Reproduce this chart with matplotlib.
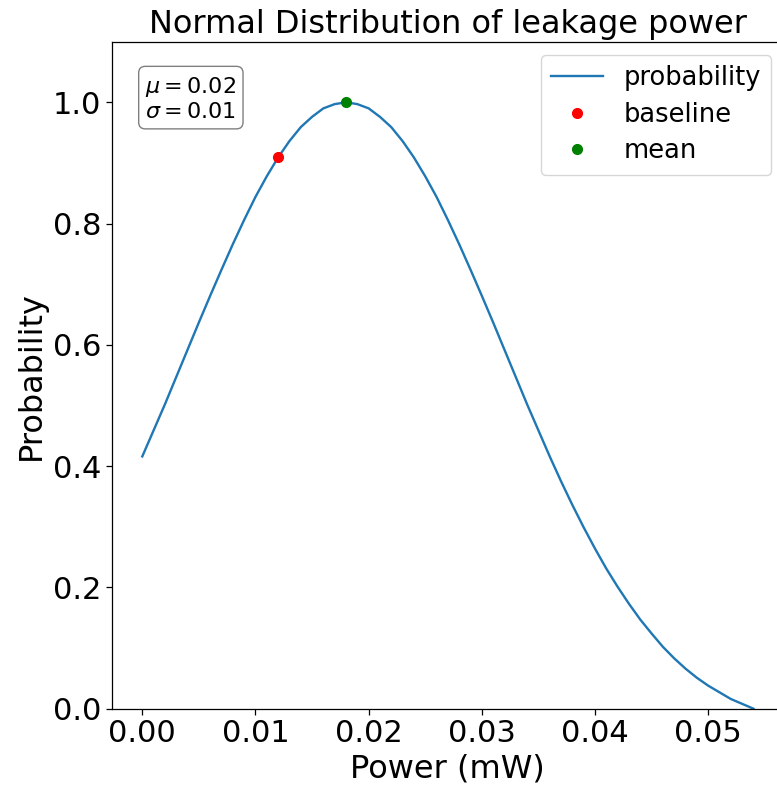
import numpy as np
import matplotlib
matplotlib.use('Agg')
import matplotlib.pyplot as plt

# curve values
power = [0.000, 0.001, 0.002, 0.003, 0.004, 0.005, 0.006, 0.007, 0.008, 0.009,
         0.010, 0.011, 0.012, 0.013, 0.014, 0.015, 0.016, 0.017, 0.018, 0.019,
         0.020, 0.021, 0.022, 0.023, 0.024, 0.025, 0.026, 0.027, 0.028, 0.029,
         0.030, 0.031, 0.032, 0.033, 0.034, 0.035, 0.036, 0.037, 0.038, 0.039,
         0.040, 0.041, 0.042, 0.043, 0.044, 0.045, 0.046, 0.047, 0.048, 0.049,
         0.050, 0.051, 0.052, 0.053, 0.054]
probability = [0.416, 0.459, 0.502, 0.547, 0.592, 0.637, 0.681, 0.724, 0.766, 0.806,
               0.844, 0.878, 0.909, 0.936, 0.959, 0.976, 0.990, 0.997, 1.000, 0.997,
               0.990, 0.976, 0.959, 0.936, 0.909, 0.878, 0.844, 0.806, 0.766, 0.724,
               0.681, 0.637, 0.592, 0.547, 0.502, 0.459, 0.416, 0.375, 0.336, 0.299,
               0.264, 0.231, 0.201, 0.173, 0.147, 0.124, 0.102, 0.083, 0.066, 0.051,
               0.038, 0.027, 0.016, 0.008, 0.000]

baseline_x = [0.012]
baseline_y = [0.909]
mean_x = [0.018]
mean_y = [1.000]

mu_txt = 0.02
sigma_txt = 0.01

fig = plt.figure(figsize=(7.77, 7.92), dpi=100)
ax = fig.add_axes([0.1438, 0.1052, 0.8652, 0.8422])

ax.plot(power, probability, color='#1f77b4', lw=1.7, label='probability')
ax.plot(baseline_x, baseline_y, 'o', color='red', ms=7, label='baseline')
ax.plot(mean_x, mean_y, 'o', color='green', ms=7, label='mean')

ax.set_ylim(0, 1.1)
ax.set_xticks([0.00, 0.01, 0.02, 0.03, 0.04, 0.05])
ax.set_yticks([0.0, 0.2, 0.4, 0.6, 0.8, 1.0])
ax.tick_params(labelsize=22, width=0.9, length=4)
for s in ax.spines.values():
    s.set_linewidth(0.9)

ax.set_title('Normal Distribution of leakage power', fontsize=23)
ax.set_xlabel('Power (mW)', fontsize=23)
ax.set_ylabel('Probability', fontsize=23)

textstr = '\n'.join((r'$\mu=%.2f$' % mu_txt, r'$\sigma=%.2f$' % sigma_txt))
ax.text(0.05, 0.95, textstr, transform=ax.transAxes, fontsize=16,
        verticalalignment='top',
        bbox=dict(boxstyle='round', facecolor='white', alpha=0.5))

ax.legend(loc='upper right', fontsize=18.5, labelspacing=0.42)

fig.savefig('out.png', dpi=100)
